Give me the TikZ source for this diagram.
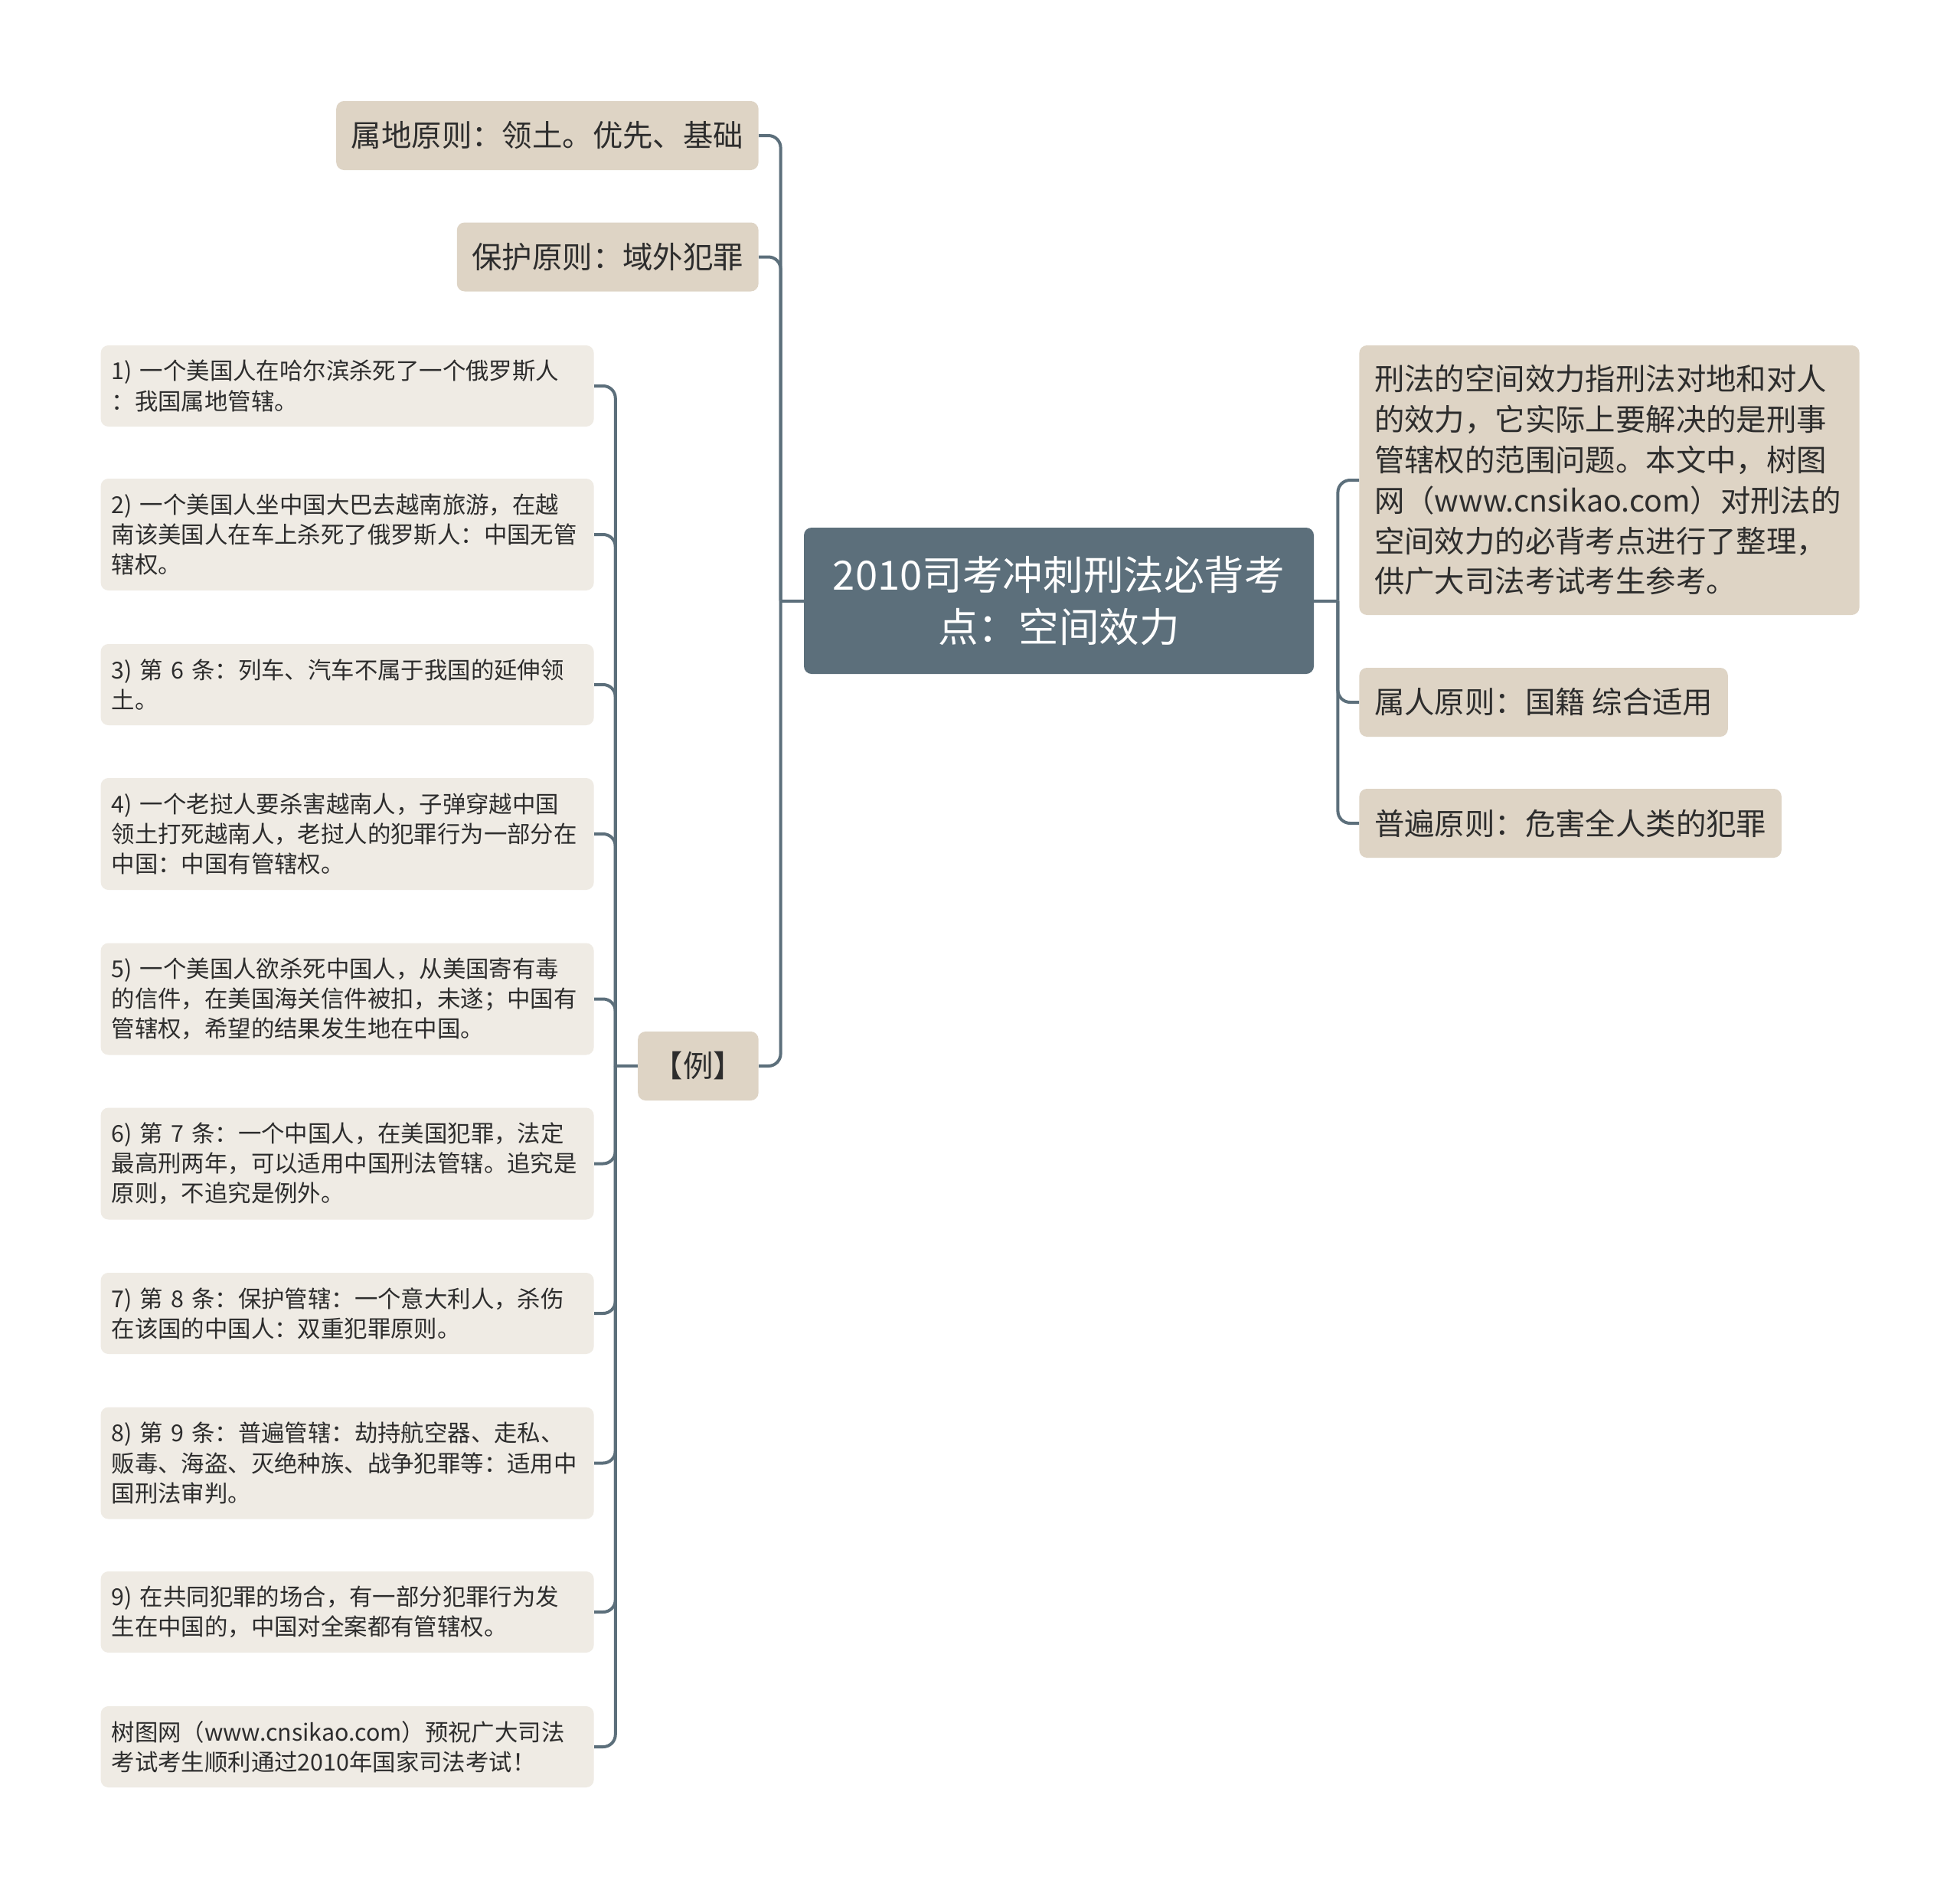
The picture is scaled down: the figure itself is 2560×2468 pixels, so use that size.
\documentclass[tikz,border=0pt]{standalone}
\usepackage{fontspec}
\newfontfamily\cjk{Noto Sans CJK SC}
\definecolor{slate}{RGB}{92,111,123}
\definecolor{sand}{RGB}{222,212,197}
\definecolor{linen}{RGB}{239,235,228}
\definecolor{ink}{RGB}{45,45,45}

\begin{document}
\begin{tikzpicture}[x=0.5pt, y=-0.5pt]
        \tikzstyle{central} = [shape=rectangle, rounded corners=5pt, fill=slate, text=white, align=center, minimum width=333pt, minimum height=95.5pt, font=\cjk\fontsize{26.3}{34.3}\selectfont]
        \tikzstyle{topic} = [shape=rectangle, rounded corners=5pt, fill=sand, text=ink, inner xsep=9.8pt, minimum height=45pt, font=\cjk\fontsize{19.7}{26.4}\selectfont]
        \tikzstyle{note} = [shape=rectangle, rounded corners=5pt, fill=linen, text=ink, align=left, text width=308pt, inner xsep=7pt, minimum height=53pt, font=\cjk\fontsize{15.2}{19.6}\selectfont]
        \tikzstyle{link} = [draw=slate, line width=2pt, rounded corners=8pt, line join=round]

        \useasboundingbox[fill=white] (0, 0) rectangle (2560, 2468);

        \node[central] (root) at (1383, 784.5) {2010司考冲刺刑法必背考\\点：空间效力};

            \node[topic, anchor=east] (shudi) at (991, 177) {属地原则：领土。优先、基础};
            \node[topic, anchor=east] (baohu) at (991, 335.5) {保护原则：域外犯罪};
            \node[topic, anchor=east] (li)    at (991, 1392) {【例】};

            \node[topic, anchor=west, align=left, text width=307pt, minimum height=176pt] (desc) at (1775, 627)
                {刑法的空间效力指刑法对地和对人\\的效力，它实际上要解决的是刑事\\管辖权的范围问题。本文中，树图\\网（www.cnsikao.com）对刑法的\\空间效力的必背考点进行了整理，\\供广大司法考试考生参考。};
            \node[topic, anchor=west] (shuren) at (1775, 917) {属人原则：国籍 综合适用};
            \node[topic, anchor=west] (pubian) at (1775, 1075) {普遍原则：危害全人类的犯罪};

                \node[note, anchor=east] (ex1) at (776, 504)
                    {1) 一个美国人在哈尔滨杀死了一个俄罗斯人\\：我国属地管辖。};
                \node[note, anchor=east, minimum height=73pt] (ex2) at (776, 698)
                    {2) 一个美国人坐中国大巴去越南旅游，在越\\南该美国人在车上杀死了俄罗斯人：中国无管\\辖权。};
                \node[note, anchor=east] (ex3) at (776, 894)
                    {3) 第 6 条：列车、汽车不属于我国的延伸领\\土。};
                \node[note, anchor=east, minimum height=73pt] (ex4) at (776, 1089)
                    {4) 一个老挝人要杀害越南人，子弹穿越中国\\领土打死越南人，老挝人的犯罪行为一部分在\\中国：中国有管辖权。};
                \node[note, anchor=east, minimum height=73pt] (ex5) at (776, 1304.5)
                    {5) 一个美国人欲杀死中国人，从美国寄有毒\\的信件，在美国海关信件被扣，未遂；中国有\\管辖权，希望的结果发生地在中国。};
                \node[note, anchor=east, minimum height=73pt] (ex6) at (776, 1519.5)
                    {6) 第 7 条：一个中国人，在美国犯罪，法定\\最高刑两年，可以适用中国刑法管辖。追究是\\原则，不追究是例外。};
                \node[note, anchor=east] (ex7) at (776, 1715)
                    {7) 第 8 条：保护管辖：一个意大利人，杀伤\\在该国的中国人：双重犯罪原则。};
                \node[note, anchor=east, minimum height=73pt] (ex8) at (776, 1910.5)
                    {8) 第 9 条：普遍管辖：劫持航空器、走私、\\贩毒、海盗、灭绝种族、战争犯罪等：适用中\\国刑法审判。};
                \node[note, anchor=east] (ex9) at (776, 2105)
                    {9) 在共同犯罪的场合，有一部分犯罪行为发\\生在中国的，中国对全案都有管辖权。};
                \node[note, anchor=east] (ex10) at (776, 2281)
                    {树图网（www.cnsikao.com）预祝广大司法\\考试考生顺利通过2010年国家司法考试！};

        \coordinate (lhub) at ([xshift=-15pt]root.west);
        \coordinate (rhub) at ([xshift=15.5pt]root.east);
        \coordinate (ehub) at ([xshift=-14.5pt]li.west);

        \draw[link] (root.west) -- (lhub);
        \draw[link] (lhub) |- (shudi.east);
        \draw[link] (lhub) |- (baohu.east);
        \draw[link] (lhub) |- (li.east);

        \draw[link] (root.east) -- (rhub);
        \draw[link] (rhub) |- (desc.west);
        \draw[link] (rhub) |- (shuren.west);
        \draw[link] (rhub) |- (pubian.west);

        \draw[link] (li.west) -- (ehub);
        \draw[link] (ehub) |- (ex1.east);
        \draw[link] (ehub) |- (ex2.east);
        \draw[link] (ehub) |- (ex3.east);
        \draw[link] (ehub) |- (ex4.east);
        \draw[link] (ehub) |- (ex5.east);
        \draw[link] (ehub) |- (ex6.east);
        \draw[link] (ehub) |- (ex7.east);
        \draw[link] (ehub) |- (ex8.east);
        \draw[link] (ehub) |- (ex9.east);
        \draw[link] (ehub) |- (ex10.east);

\end{tikzpicture}
\end{document}
